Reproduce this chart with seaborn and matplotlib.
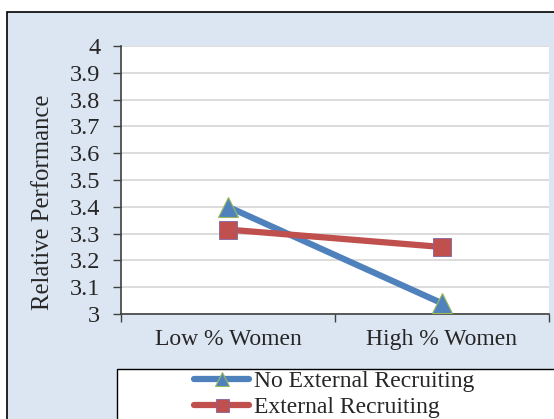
import matplotlib
matplotlib.use("Agg")
import matplotlib.pyplot as plt
import seaborn as sns
import pandas as pd
from matplotlib.patches import Rectangle

categories = ["Low % Women", "High % Women"]
no_external = [3.40, 3.04]
external = [3.315, 3.25]
series_names = ["No External Recruiting", "External Recruiting"]
yticks = [3, 3.1, 3.2, 3.3, 3.4, 3.5, 3.6, 3.7, 3.8, 3.9, 4]
ytick_labels = ["3", "3.1", "3.2", "3.3", "3.4", "3.5", "3.6", "3.7", "3.8", "3.9", "4"]

sns.set_style("white")
plt.rcParams["font.family"] = ["Liberation Serif", "DejaVu Serif"]

W, H = 554, 419
fig = plt.figure(figsize=(W / 100, H / 100), dpi=100)
fig.patch.set_facecolor("white")

# background axes for the chart area and legend box
bg = fig.add_axes([0, 0, 1, 1], zorder=0)
bg.set_xlim(0, W)
bg.set_ylim(H, 0)
bg.axis("off")
bg.add_patch(Rectangle((7, 12), W + 20, H + 20, facecolor="#DCE6F2", edgecolor="black", linewidth=1.2))
bg.add_patch(Rectangle((117, 369), W + 20, H, facecolor="white", edgecolor="black", linewidth=1.0))

ax = fig.add_axes([121 / W, 1 - 314 / H, (549 - 121) / W, (314 - 46) / H], zorder=2)
ax.set_facecolor("white")

df = pd.DataFrame({
    "x": list(range(len(categories))) * 2,
    "value": no_external + external,
    "series": [series_names[0]] * len(categories) + [series_names[1]] * len(categories),
})

blue = "#4F81BD"
red = "#C0504D"
sns.lineplot(data=df[df.series == series_names[0]], x="x", y="value", ax=ax, color=blue,
             linewidth=4.5, marker="^", markersize=14, markeredgecolor="#9BBB59",
             markeredgewidth=0.8, label=series_names[0], legend=False, clip_on=False, zorder=3)
sns.lineplot(data=df[df.series == series_names[1]], x="x", y="value", ax=ax, color=red,
             linewidth=4.5, marker="s", markersize=13, markeredgecolor="#8064A2",
             markeredgewidth=0.6, label=series_names[1], legend=False, clip_on=False, zorder=4)

ax.set_xlim(-0.5, 1.5)
ax.set_ylim(3, 4)
ax.set_yticks(yticks)
ax.set_yticklabels(ytick_labels, fontsize=17.5)
ax.set_xticks([-0.5, 0.5, 1.5])
ax.set_xticklabels([])
ax.set_xticks([0, 1], minor=True)
ax.set_xticklabels(categories, minor=True, fontsize=17)
ax.tick_params(axis="x", which="minor", length=0, pad=11)
ax.tick_params(axis="x", which="major", direction="out", length=6, width=1, color="#404040", bottom=True)
ax.tick_params(axis="y", direction="out", length=6, width=1, color="#404040", left=True, pad=9)
ax.grid(axis="y", color="#D9D9D9", linewidth=1.3)
ax.set_axisbelow(True)
for side in ["top", "right"]:
    ax.spines[side].set_visible(False)
for side in ["left", "bottom"]:
    ax.spines[side].set_color("#404040")
    ax.spines[side].set_linewidth(1.2)
ax.set_xlabel("")
ax.set_ylabel("Relative Performance", fontsize=17.8)
ax.yaxis.set_label_coords((54 - 121) / 428, (314 - 202) / 268)

handles, labels = ax.get_legend_handles_labels()
leg = fig.legend(handles, labels, loc="center", bbox_to_anchor=(334 / W, 1 - 394.5 / H),
                 frameon=False, fontsize=17, handlelength=2.35, handletextpad=0.18,
                 labelspacing=0.2, borderpad=0, markerscale=0.72)
leg.set_zorder(5)

fig.savefig("out.png", dpi=100)
